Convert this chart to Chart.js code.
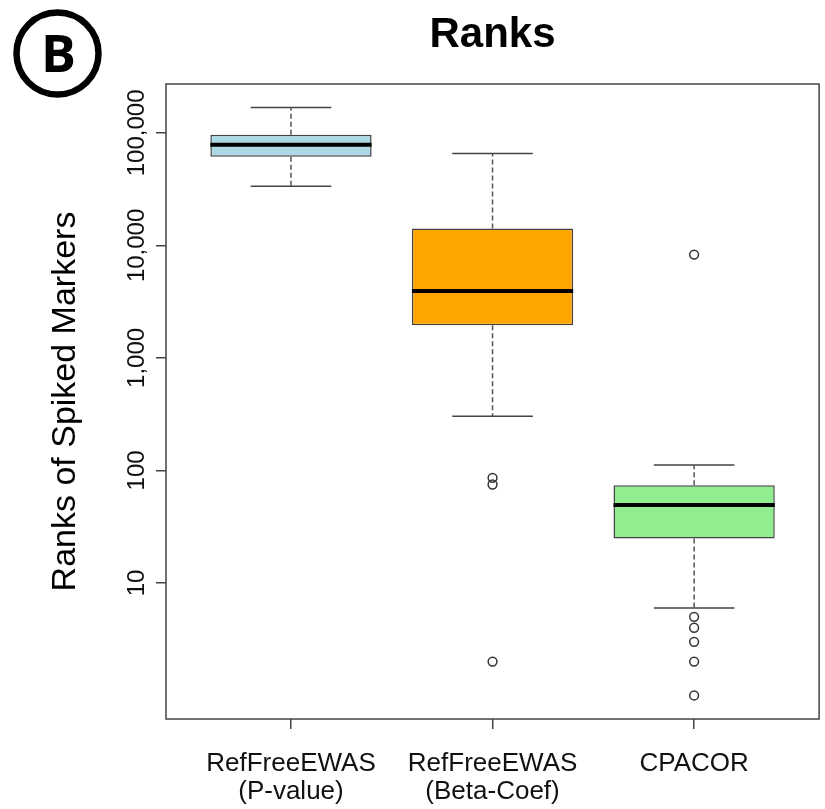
<!DOCTYPE html>
<html>
<head>
<meta charset="utf-8">
<title>Ranks</title>
<script src="https://cdn.jsdelivr.net/npm/chart.js@4.4.1/dist/chart.umd.min.js"></script>
<style>
  html, body { margin: 0; padding: 0; background: #ffffff; }
  #chart { display: block; }
</style>
</head>
<body>
<canvas id="chart" width="825" height="809"></canvas>
<script>
// Methods compared
const categories = [['RefFreeEWAS', '(P-value)'], ['RefFreeEWAS', '(Beta-Coef)'], ['CPACOR']];

// Five-number summaries of the ranks of spiked markers
const whiskerLow  = [33500, 303, 6];
const quartile1   = [61500, 1950, 24.9];
const medians     = [78600, 3940, 49.3];
const quartile3   = [96400, 14100, 73.8];
const whiskerHigh = [168000, 65700, 112];

// Points beyond the whiskers, per method
const outlierValues = [[], [86, 75, 2], [8280, 5, 4, 3, 2, 1]];

// Log axis ticks
const yTickValues = [10, 100, 1000, 10000, 100000];
const yTickLabels = ['10', '100', '1,000', '10,000', '100,000'];

const boxColors = ['#ADD8E6', '#FFA500', '#90EE90'];
const positions = categories.map((_, i) => i + 1);

// axis limits: full data range on the log scale, widened by 4% on each side
const allValues = whiskerLow.concat(whiskerHigh, outlierValues.flat());
const logLo = Math.log10(Math.min(...allValues));
const logHi = Math.log10(Math.max(...allValues));
const logPad = 0.04 * (logHi - logLo);
const xPad = 0.04 * (positions.length);

const boxData = positions.map((p, i) => ({ x: p, y: [quartile1[i], quartile3[i]] }));
const outlierData = outlierValues.flatMap((vals, i) => vals.map(v => ({ x: positions[i], y: v })));

const FRAME = '#444444';

// whiskers, caps, medians and the frame around the plot region
const boxParts = {
  id: 'boxParts',
  afterDatasetsDraw(chart) {
    const { ctx, chartArea } = chart;
    const xs = chart.scales.x, ys = chart.scales.y;
    const bars = chart.getDatasetMeta(1).data;
    ctx.save();
    positions.forEach((p, i) => {
      const cx = xs.getPixelForValue(p);
      const half = bars[i].width / 2;
      const capHalf = half / 2;
      // dashed whiskers
      ctx.setLineDash([5, 3]);
      ctx.strokeStyle = '#555555';
      ctx.lineWidth = 1.5;
      ctx.beginPath();
      ctx.moveTo(cx, ys.getPixelForValue(quartile3[i]));
      ctx.lineTo(cx, ys.getPixelForValue(whiskerHigh[i]));
      ctx.moveTo(cx, ys.getPixelForValue(quartile1[i]));
      ctx.lineTo(cx, ys.getPixelForValue(whiskerLow[i]));
      ctx.stroke();
      // whisker caps
      ctx.setLineDash([]);
      ctx.strokeStyle = FRAME;
      ctx.beginPath();
      [whiskerHigh[i], whiskerLow[i]].forEach(v => {
        const yy = ys.getPixelForValue(v);
        ctx.moveTo(cx - capHalf, yy);
        ctx.lineTo(cx + capHalf, yy);
      });
      ctx.stroke();
      // median
      ctx.strokeStyle = '#000000';
      ctx.lineWidth = 4;
      ctx.beginPath();
      const ym = ys.getPixelForValue(medians[i]);
      ctx.moveTo(cx - half, ym);
      ctx.lineTo(cx + half, ym);
      ctx.stroke();
    });
    // frame
    ctx.strokeStyle = FRAME;
    ctx.lineWidth = 1.5;
    ctx.strokeRect(chartArea.left, chartArea.top, chartArea.right - chartArea.left, chartArea.bottom - chartArea.top);
    ctx.restore();
  }
};

// main title and the panel letter
const headings = {
  id: 'headings',
  afterDraw(chart) {
    const { ctx, chartArea } = chart;
    ctx.save();
    ctx.fillStyle = '#000000';
    ctx.font = 'bold 42px "Liberation Sans", Arial, sans-serif';
    ctx.textAlign = 'center';
    ctx.textBaseline = 'alphabetic';
    ctx.fillText('Ranks', (chartArea.left + chartArea.right) / 2, 47);

    ctx.lineWidth = 6.5;
    ctx.strokeStyle = '#000000';
    ctx.beginPath();
    ctx.arc(57.5, 53.5, 41, 0, Math.PI * 2);
    ctx.stroke();
    ctx.font = 'bold 52px "Open Sans", "Liberation Sans", sans-serif';
    ctx.fillText('B', 58.5, 72);
    ctx.restore();
  }
};

new Chart(document.getElementById('chart'), {
  type: 'bar',
  data: {
    datasets: [
      {
        type: 'scatter',
        label: 'outliers',
        data: outlierData,
        pointStyle: 'circle',
        pointRadius: 4.4,
        pointBorderWidth: 1.5,
        pointBorderColor: '#333333',
        pointBackgroundColor: 'rgba(0,0,0,0)'
      },
      {
        type: 'bar',
        label: 'boxes',
        data: boxData,
        backgroundColor: boxColors,
        borderColor: FRAME,
        borderWidth: 1.5,
        borderSkipped: false,
        barPercentage: 0.8,
        categoryPercentage: 1.0
      }
    ]
  },
  options: {
    responsive: false,
    devicePixelRatio: 1,
    animation: false,
    events: [],
    layout: { padding: { left: 0, top: 84, right: 3, bottom: 0 } },
    plugins: {
      legend: { display: false },
      title: { display: false },
      tooltip: { enabled: false }
    },
    scales: {
      x: {
        type: 'linear',
        bounds: 'data',
        offset: false,
        min: 0.5 - xPad,
        max: positions.length + 0.5 + xPad,
        afterBuildTicks: s => { s.ticks = positions.map(v => ({ value: v })); },
        afterFit: s => { s.height = 90; },
        border: { display: false },
        grid: { display: true, offset: false, drawOnChartArea: false, drawTicks: true, tickLength: 10, color: FRAME, lineWidth: 1.5 },
        ticks: {
          autoSkip: false,
          maxRotation: 0,
          minRotation: 0,
          padding: 21,
          color: '#111111',
          font: { family: '"Liberation Sans", Arial, sans-serif', size: 26, lineHeight: 1.08 },
          callback: (v, i) => categories[i]
        }
      },
      y: {
        type: 'logarithmic',
        bounds: 'data',
        min: Math.pow(10, logLo - logPad),
        max: Math.pow(10, logHi + logPad),
        afterBuildTicks: s => { s.ticks = yTickValues.map(v => ({ value: v })); },
        afterFit: s => { s.width = 166; },
        border: { display: false },
        grid: { display: true, drawOnChartArea: false, drawTicks: true, tickLength: 10, color: FRAME, lineWidth: 1.5 },
        ticks: {
          autoSkip: false,
          minRotation: 90,
          maxRotation: 90,
          crossAlign: 'center',
          padding: -25,
          color: '#111111',
          font: { family: '"Liberation Sans", Arial, sans-serif', size: 24 },
          callback: (v, i) => yTickLabels[i]
        },
        title: {
          display: true,
          text: 'Ranks of Spiked Markers',
          color: '#000000',
          padding: { top: 45, bottom: 0 },
          font: { family: '"Liberation Sans", Arial, sans-serif', size: 34, lineHeight: 1.2 }
        }
      }
    }
  },
  plugins: [boxParts, headings]
});
</script>
</body>
</html>
